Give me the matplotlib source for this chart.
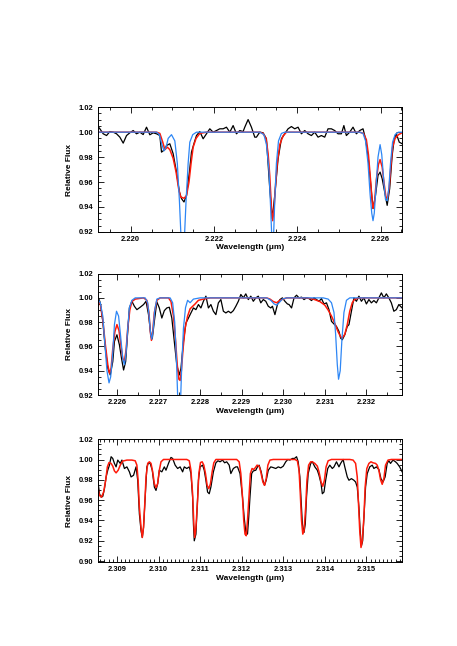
import matplotlib
matplotlib.use("Agg")
import matplotlib.pyplot as plt
from matplotlib.ticker import MultipleLocator, FormatStrFormatter

plt.rcParams['font.family'] = ['Liberation Sans', 'DejaVu Sans']
plt.rcParams['font.weight'] = 'bold'

# ---- panel 1 : 2.2192 - 2.2265 um ----
p1_wave_obs = [2.21921, 2.21926, 2.21934, 2.21942, 2.21950, 2.21958, 2.21966, 2.21974, 2.21982, 2.21990,
               2.21998, 2.22006, 2.22014, 2.22022, 2.22030, 2.22038, 2.22046, 2.22054, 2.22062, 2.22070,
               2.22074, 2.22082, 2.22086, 2.22094, 2.22102, 2.22110, 2.22117, 2.22122, 2.22128, 2.22134,
               2.22141, 2.22146, 2.22153, 2.22158, 2.22166, 2.22174, 2.22182, 2.22190, 2.22198, 2.22206,
               2.22214, 2.22222, 2.22230, 2.22238, 2.22246, 2.22254, 2.22262, 2.22270, 2.22274, 2.22282,
               2.22290, 2.22298, 2.22302, 2.22310, 2.22318, 2.22326, 2.22334, 2.22340, 2.22346, 2.22354,
               2.22362, 2.22370, 2.22378, 2.22386, 2.22394, 2.22402, 2.22410, 2.22418, 2.22426, 2.22434,
               2.22442, 2.22450, 2.22458, 2.22466, 2.22474, 2.22482, 2.22490, 2.22498, 2.22506, 2.22512,
               2.22518, 2.22526, 2.22534, 2.22542, 2.22550, 2.22558, 2.22564, 2.22570, 2.22576, 2.22582,
               2.22588, 2.22594, 2.22599, 2.22604, 2.22610, 2.22616, 2.22622, 2.22628, 2.22633, 2.22638,
               2.22645, 2.22652]
p1_flux_obs = [1.0048, 1.0027, 0.9987, 0.9973, 1.0005, 1.0000, 0.9987, 0.9960, 0.9912, 0.9973,
               0.9995, 1.0013, 0.9987, 1.0000, 0.9981, 1.0040, 0.9979, 0.9995, 0.9987, 0.9973,
               0.9840, 0.9861, 0.9893, 0.9907, 0.9827, 0.9680, 0.9520, 0.9467, 0.9440, 0.9493,
               0.9680, 0.9840, 0.9920, 0.9973, 1.0005, 0.9947, 0.9987, 1.0027, 1.0000, 1.0013,
               1.0027, 1.0027, 1.0040, 1.0000, 1.0053, 0.9987, 1.0013, 1.0005, 1.0040, 1.0101,
               1.0040, 0.9960, 0.9960, 1.0000, 0.9995, 0.9947, 0.9547, 0.9307, 0.9493, 0.9787,
               0.9947, 0.9987, 1.0027, 1.0045, 1.0027, 1.0040, 0.9987, 1.0013, 0.9987, 0.9973,
               1.0000, 0.9960, 0.9973, 0.9960, 1.0027, 1.0027, 1.0013, 0.9987, 0.9987, 1.0053,
               0.9973, 1.0000, 1.0040, 0.9987, 1.0013, 1.0027, 0.9947, 0.9813, 0.9600, 0.9387,
               0.9493, 0.9653, 0.9680, 0.9627, 0.9520, 0.9413, 0.9547, 0.9813, 0.9947, 0.9987,
               0.9920, 0.9907]

p1_wave_red = [2.21921, 2.22062, 2.22070, 2.22077, 2.22082, 2.22088, 2.22094, 2.22102, 2.22109, 2.22115,
               2.22120, 2.22128, 2.22134, 2.22140, 2.22145, 2.22150, 2.22157, 2.22166, 2.22182, 2.22310,
               2.22318, 2.22325, 2.22330, 2.22334, 2.22338, 2.22341, 2.22344, 2.22348, 2.22352, 2.22358,
               2.22366, 2.22374, 2.22550, 2.22559, 2.22566, 2.22571, 2.22576, 2.22580, 2.22582, 2.22586,
               2.22590, 2.22595, 2.22599, 2.22604, 2.22609, 2.22613, 2.22617, 2.22621, 2.22625, 2.22629,
               2.22635, 2.22643, 2.22652]
p1_flux_red = [1.000, 1.000, 0.999, 0.992, 0.986, 0.988, 0.986, 0.979, 0.968, 0.955,
               0.948, 0.947, 0.949, 0.960, 0.975, 0.988, 0.995, 0.999, 1.000, 1.000,
               0.999, 0.995, 0.983, 0.965, 0.940, 0.929, 0.937, 0.958, 0.975, 0.990,
               0.997, 1.000, 1.000, 0.999, 0.994, 0.982, 0.962, 0.944, 0.939, 0.945,
               0.962, 0.974, 0.978, 0.972, 0.958, 0.948, 0.947, 0.956, 0.973, 0.988,
               0.995, 0.998, 0.9995]

p1_wave_blue = [2.21921, 2.22062, 2.22069, 2.22074, 2.22080, 2.22085, 2.22090, 2.22098, 2.22106, 2.22112,
                2.22117, 2.22121, 2.22125, 2.22129, 2.22133, 2.22138, 2.22142, 2.22149, 2.22158, 2.22310,
                2.22320, 2.22326, 2.22332, 2.22336, 2.22339, 2.22341, 2.22343, 2.22346, 2.22350, 2.22355,
                2.22362, 2.22370, 2.22550, 2.22558, 2.22564, 2.22570, 2.22575, 2.22579, 2.22582, 2.22585,
                2.22590, 2.22594, 2.22599, 2.22603, 2.22608, 2.22612, 2.22616, 2.22620, 2.22624, 2.22629,
                2.22635, 2.22643, 2.22652]
p1_flux_blue = [1.000, 1.000, 0.998, 0.991, 0.985, 0.988, 0.995, 0.998, 0.993, 0.975,
                0.945, 0.915, 0.900, 0.915, 0.945, 0.975, 0.992, 0.998, 1.000, 1.000,
                0.998, 0.990, 0.970, 0.940, 0.915, 0.905, 0.915, 0.945, 0.975, 0.993,
                0.999, 1.000, 1.000, 0.999, 0.993, 0.975, 0.950, 0.935, 0.929, 0.935,
                0.960, 0.980, 0.990, 0.982, 0.960, 0.946, 0.945, 0.955, 0.975, 0.992,
                0.998, 1.000, 1.000]

# ---- panel 2 : 2.2255 - 2.2329 um ----
p2_wave_obs = [2.22554, 2.22560, 2.22566, 2.22572, 2.22578, 2.22584, 2.22590, 2.22594, 2.22600, 2.22606,
               2.22611, 2.22616, 2.22621, 2.22626, 2.22630, 2.22636, 2.22642, 2.22648, 2.22656, 2.22664,
               2.22670, 2.22676, 2.22682, 2.22685, 2.22690, 2.22696, 2.22702, 2.22708, 2.22714, 2.22720,
               2.22726, 2.22732, 2.22738, 2.22744, 2.22750, 2.22754, 2.22760, 2.22766, 2.22772, 2.22778,
               2.22784, 2.22790, 2.22796, 2.22802, 2.22808, 2.22814, 2.22820, 2.22826, 2.22832, 2.22838,
               2.22844, 2.22850, 2.22856, 2.22862, 2.22868, 2.22874, 2.22880, 2.22886, 2.22892, 2.22898,
               2.22904, 2.22910, 2.22916, 2.22922, 2.22928, 2.22934, 2.22940, 2.22946, 2.22952, 2.22958,
               2.22964, 2.22970, 2.22974, 2.22980, 2.22986, 2.22992, 2.22998, 2.23004, 2.23010, 2.23014,
               2.23020, 2.23026, 2.23032, 2.23038, 2.23044, 2.23050, 2.23056, 2.23062, 2.23068, 2.23074,
               2.23080, 2.23086, 2.23092, 2.23098, 2.23104, 2.23110, 2.23116, 2.23122, 2.23128, 2.23134,
               2.23138, 2.23142, 2.23148, 2.23154, 2.23158, 2.23164, 2.23170, 2.23176, 2.23182, 2.23188,
               2.23194, 2.23200, 2.23206, 2.23212, 2.23218, 2.23224, 2.23230, 2.23236, 2.23242, 2.23248,
               2.23254, 2.23260, 2.23266, 2.23272, 2.23278, 2.23286]
p2_flux_obs = [1.0014, 0.9959, 0.9807, 0.9586, 0.9420, 0.9365, 0.9475, 0.9641, 0.9696, 0.9613,
               0.9503, 0.9406, 0.9475, 0.9724, 0.9917, 0.9972, 0.9931, 0.9903, 0.9923, 0.9945,
               0.9972, 0.9862, 0.9682, 0.9663, 0.9807, 0.9967, 0.9917, 0.9834, 0.9895, 0.9917,
               0.9923, 0.9834, 0.9641, 0.9448, 0.9365, 0.9420, 0.9641, 0.9793, 0.9834, 0.9876,
               0.9917, 0.9903, 0.9945, 0.9917, 0.9972, 1.0014, 0.9917, 0.9945, 0.9890, 0.9862,
               0.9959, 0.9986, 0.9890, 0.9876, 0.9890, 0.9876, 0.9895, 0.9931, 0.9972, 1.0028,
               1.0000, 1.0033, 0.9986, 1.0014, 0.9972, 1.0000, 1.0014, 0.9959, 0.9986, 0.9972,
               0.9931, 0.9917, 0.9931, 0.9862, 0.9945, 0.9986, 1.0000, 0.9972, 0.9950, 0.9945,
               0.9917, 1.0000, 1.0022, 1.0000, 1.0006, 0.9986, 1.0000, 0.9994, 0.9978, 1.0000,
               0.9986, 0.9972, 0.9994, 0.9950, 0.9959, 0.9903, 0.9807, 0.9785, 0.9765, 0.9724,
               0.9669, 0.9655, 0.9696, 0.9765, 0.9779, 0.9890, 1.0000, 0.9972, 1.0014, 0.9972,
               1.0000, 0.9950, 0.9986, 0.9959, 0.9978, 0.9959, 1.0000, 1.0041, 1.0000, 1.0033,
               1.0000, 0.9959, 0.9890, 0.9903, 0.9945, 0.9917]

p2_wave_red = [2.22554, 2.22560, 2.22566, 2.22572, 2.22578, 2.22582, 2.22586, 2.22590, 2.22595, 2.22600,
               2.22605, 2.22610, 2.22614, 2.22618, 2.22622, 2.22626, 2.22631, 2.22636, 2.22644, 2.22664,
               2.22672, 2.22677, 2.22680, 2.22683, 2.22686, 2.22690, 2.22696, 2.22704, 2.22724, 2.22730,
               2.22736, 2.22741, 2.22745, 2.22749, 2.22752, 2.22755, 2.22759, 2.22764, 2.22770, 2.22776,
               2.22782, 2.22788, 2.22796, 2.22808, 2.22824, 2.22960, 2.22968, 2.22976, 2.22984, 2.22992,
               2.23000, 2.23008, 2.23056, 2.23072, 2.23088, 2.23100, 2.23108, 2.23116, 2.23124, 2.23132,
               2.23138, 2.23142, 2.23148, 2.23154, 2.23160, 2.23166, 2.23172, 2.23184, 2.23286]
p2_flux_red = [0.998, 0.995, 0.982, 0.962, 0.945, 0.938, 0.942, 0.958, 0.972, 0.978,
               0.973, 0.960, 0.950, 0.948, 0.957, 0.975, 0.990, 0.997, 0.999, 1.000,
               0.998, 0.988, 0.973, 0.965, 0.972, 0.988, 0.998, 1.000, 1.000, 0.997,
               0.985, 0.965, 0.945, 0.933, 0.932, 0.940, 0.958, 0.975, 0.985, 0.991,
               0.993, 0.995, 0.998, 0.999, 1.000, 1.000, 0.999, 0.997, 0.996, 0.998,
               0.999, 1.000, 1.000, 0.999, 0.997, 0.994, 0.990, 0.985, 0.979, 0.972,
               0.968, 0.967, 0.970, 0.978, 0.989, 0.996, 0.999, 1.000, 1.000]

p2_wave_blue = [2.22554, 2.22560, 2.22566, 2.22571, 2.22576, 2.22581, 2.22585, 2.22590, 2.22594, 2.22599,
                2.22604, 2.22609, 2.22614, 2.22618, 2.22622, 2.22626, 2.22630, 2.22636, 2.22644, 2.22668,
                2.22674, 2.22678, 2.22681, 2.22684, 2.22687, 2.22691, 2.22696, 2.22704, 2.22728, 2.22734,
                2.22739, 2.22743, 2.22746, 2.22750, 2.22753, 2.22756, 2.22760, 2.22765, 2.22770, 2.22776,
                2.22784, 2.22800, 2.22960, 2.22970, 2.22978, 2.22984, 2.22990, 2.22998, 2.23008, 2.23096,
                2.23108, 2.23116, 2.23122, 2.23126, 2.23130, 2.23133, 2.23137, 2.23141, 2.23146, 2.23152,
                2.23160, 2.23286]
p2_flux_blue = [0.999, 0.996, 0.985, 0.962, 0.940, 0.930, 0.935, 0.955, 0.978, 0.989,
                0.985, 0.968, 0.950, 0.945, 0.955, 0.975, 0.992, 0.998, 1.000, 1.000,
                0.996, 0.983, 0.970, 0.966, 0.974, 0.990, 0.999, 1.000, 1.000, 0.996,
                0.980, 0.950, 0.920, 0.900, 0.915, 0.945, 0.975, 0.992, 0.998, 0.996,
                0.999, 1.000, 1.000, 0.998, 0.995, 0.994, 0.996, 0.999, 1.000, 1.000,
                0.999, 0.996, 0.988, 0.970, 0.945, 0.933, 0.940, 0.965, 0.988, 0.998,
                1.000, 1.000]

# ---- panel 3 : 2.3085 - 2.3159 um ----
p3_wave_obs = [2.30854, 2.30858, 2.30862, 2.30866, 2.30870, 2.30874, 2.30878, 2.30882, 2.30886, 2.30890,
               2.30894, 2.30898, 2.30902, 2.30908, 2.30912, 2.30918, 2.30924, 2.30930, 2.30934, 2.30940,
               2.30946, 2.30950, 2.30954, 2.30958, 2.30961, 2.30964, 2.30968, 2.30972, 2.30976, 2.30980,
               2.30985, 2.30990, 2.30994, 2.30998, 2.31002, 2.31008, 2.31014, 2.31018, 2.31024, 2.31030,
               2.31034, 2.31040, 2.31046, 2.31052, 2.31058, 2.31062, 2.31068, 2.31074, 2.31078, 2.31082,
               2.31084, 2.31086, 2.31090, 2.31093, 2.31096, 2.31100, 2.31106, 2.31110, 2.31114, 2.31118,
               2.31122, 2.31126, 2.31132, 2.31138, 2.31143, 2.31148, 2.31154, 2.31159, 2.31164, 2.31170,
               2.31174, 2.31180, 2.31186, 2.31190, 2.31196, 2.31202, 2.31206, 2.31210, 2.31214, 2.31217,
               2.31220, 2.31224, 2.31228, 2.31234, 2.31238, 2.31242, 2.31247, 2.31251, 2.31255, 2.31259,
               2.31264, 2.31270, 2.31276, 2.31282, 2.31288, 2.31294, 2.31300, 2.31306, 2.31311, 2.31316,
               2.31322, 2.31327, 2.31332, 2.31336, 2.31340, 2.31343, 2.31346, 2.31350, 2.31353, 2.31356,
               2.31360, 2.31366, 2.31370, 2.31376, 2.31382, 2.31386, 2.31391, 2.31394, 2.31398, 2.31402,
               2.31407, 2.31412, 2.31418, 2.31422, 2.31428, 2.31434, 2.31438, 2.31444, 2.31448, 2.31454,
               2.31458, 2.31464, 2.31470, 2.31474, 2.31478, 2.31482, 2.31485, 2.31488, 2.31491, 2.31494,
               2.31498, 2.31502, 2.31508, 2.31514, 2.31518, 2.31524, 2.31530, 2.31535, 2.31540, 2.31545,
               2.31550, 2.31554, 2.31558, 2.31564, 2.31570, 2.31574, 2.31580, 2.31586]
p3_flux_obs = [0.9796, 0.9663, 0.9630, 0.9637, 0.9713, 0.9829, 0.9895, 0.9945, 1.0028, 1.0011,
               0.9962, 0.9928, 0.9995, 0.9962, 0.9995, 0.9912, 0.9928, 0.9879, 0.9829, 0.9845,
               0.9928, 0.9796, 0.9464, 0.9298, 0.9232, 0.9332, 0.9630, 0.9928, 0.9968, 0.9962,
               0.9895, 0.9729, 0.9696, 0.9763, 0.9895, 0.9879, 0.9928, 0.9895, 0.9962, 1.0021,
               1.0011, 0.9945, 0.9912, 0.9928, 0.9879, 0.9928, 0.9912, 0.9928, 0.9862, 0.9630,
               0.9365, 0.9199, 0.9265, 0.9531, 0.9796, 0.9928, 0.9945, 0.9895, 0.9796, 0.9680,
               0.9663, 0.9729, 0.9879, 0.9968, 0.9988, 0.9978, 0.9995, 0.9968, 0.9978, 0.9945,
               0.9862, 0.9912, 0.9928, 0.9928, 0.9862, 0.9630, 0.9431, 0.9282, 0.9265, 0.9431,
               0.9630, 0.9862, 0.9888, 0.9895, 0.9928, 0.9945, 0.9879, 0.9796, 0.9746, 0.9796,
               0.9895, 0.9928, 0.9921, 0.9912, 0.9928, 0.9918, 0.9935, 0.9978, 1.0001, 0.9995,
               1.0011, 1.0011, 1.0028, 0.9978, 0.9829, 0.9597, 0.9365, 0.9282, 0.9365, 0.9630,
               0.9862, 0.9962, 0.9978, 0.9928, 0.9895, 0.9845, 0.9763, 0.9663, 0.9680, 0.9796,
               0.9912, 0.9945, 0.9912, 0.9928, 0.9978, 0.9928, 0.9962, 1.0001, 0.9928, 0.9829,
               0.9796, 0.9812, 0.9796, 0.9779, 0.9729, 0.9531, 0.9298, 0.9149, 0.9199, 0.9431,
               0.9729, 0.9862, 0.9928, 0.9945, 0.9912, 0.9928, 0.9902, 0.9812, 0.9779, 0.9829,
               0.9962, 0.9988, 0.9962, 0.9995, 0.9978, 0.9962, 0.9928, 0.9879]

p3_wave_red = [2.30854, 2.30858, 2.30863, 2.30868, 2.30873, 2.30877, 2.30881, 2.30886, 2.30890, 2.30894,
               2.30898, 2.30903, 2.30908, 2.30914, 2.30924, 2.30936, 2.30944, 2.30948, 2.30951, 2.30954,
               2.30958, 2.30961, 2.30964, 2.30967, 2.30970, 2.30974, 2.30978, 2.30982, 2.30986, 2.30990,
               2.30994, 2.30998, 2.31002, 2.31006, 2.31012, 2.31068, 2.31074, 2.31078, 2.31082, 2.31085,
               2.31087, 2.31090, 2.31094, 2.31097, 2.31101, 2.31105, 2.31109, 2.31113, 2.31117, 2.31121,
               2.31125, 2.31129, 2.31133, 2.31138, 2.31188, 2.31194, 2.31198, 2.31202, 2.31205, 2.31208,
               2.31211, 2.31214, 2.31218, 2.31221, 2.31225, 2.31229, 2.31233, 2.31237, 2.31242, 2.31246,
               2.31251, 2.31255, 2.31259, 2.31263, 2.31268, 2.31276, 2.31328, 2.31334, 2.31338, 2.31341,
               2.31344, 2.31347, 2.31350, 2.31354, 2.31357, 2.31361, 2.31366, 2.31370, 2.31376, 2.31382,
               2.31386, 2.31391, 2.31395, 2.31399, 2.31403, 2.31408, 2.31416, 2.31460, 2.31468, 2.31474,
               2.31478, 2.31481, 2.31484, 2.31487, 2.31490, 2.31494, 2.31497, 2.31501, 2.31506, 2.31511,
               2.31516, 2.31522, 2.31526, 2.31530, 2.31534, 2.31538, 2.31542, 2.31546, 2.31552, 2.31560,
               2.31586]
p3_flux_red = [0.9729, 0.9646, 0.9630, 0.9680, 0.9796, 0.9928, 0.9971, 0.9962, 0.9935, 0.9888,
               0.9869, 0.9895, 0.9945, 0.9985, 0.9995, 0.9995, 0.9988, 0.9945, 0.9796, 0.9531,
               0.9332, 0.9232, 0.9332, 0.9564, 0.9829, 0.9962, 0.9978, 0.9962, 0.9879, 0.9763,
               0.9723, 0.9763, 0.9895, 0.9978, 1.0001, 1.0001, 0.9988, 0.9895, 0.9663, 0.9365,
               0.9232, 0.9332, 0.9597, 0.9862, 0.9971, 0.9978, 0.9945, 0.9862, 0.9746, 0.9713,
               0.9763, 0.9879, 0.9968, 1.0001, 1.0001, 0.9978, 0.9862, 0.9630, 0.9398, 0.9265,
               0.9249, 0.9398, 0.9663, 0.9862, 0.9912, 0.9902, 0.9921, 0.9945, 0.9935, 0.9879,
               0.9779, 0.9746, 0.9812, 0.9945, 0.9995, 1.0001, 1.0001, 0.9988, 0.9895, 0.9663,
               0.9398, 0.9265, 0.9298, 0.9531, 0.9796, 0.9945, 0.9978, 0.9978, 0.9962, 0.9935,
               0.9879, 0.9779, 0.9736, 0.9796, 0.9928, 0.9988, 1.0001, 1.0001, 0.9995, 0.9962,
               0.9829, 0.9564, 0.9298, 0.9133, 0.9199, 0.9431, 0.9729, 0.9912, 0.9962, 0.9978,
               0.9968, 0.9962, 0.9945, 0.9895, 0.9802, 0.9756, 0.9812, 0.9945, 0.9995, 1.0001,
               1.0001]

panels = [
    dict(obs=(p1_wave_obs, p1_flux_obs), red=(p1_wave_red, p1_flux_red), blue=(p1_wave_blue, p1_flux_blue),
         xlim=(2.21921, 2.22652), ylim=(0.92, 1.02), xmajor=0.002, xminor=0.0005, yticks=[0.92, 0.94, 0.96, 0.98, 1.00, 1.02],
         rect=[0.214, 0.641, 0.666, 0.193]),
    dict(obs=(p2_wave_obs, p2_flux_obs), red=(p2_wave_red, p2_flux_red), blue=(p2_wave_blue, p2_flux_blue),
         xlim=(2.22554, 2.23286), ylim=(0.92, 1.02), xmajor=0.001, xminor=0.0005, yticks=[0.92, 0.94, 0.96, 0.98, 1.00, 1.02],
         rect=[0.214, 0.3885, 0.666, 0.188]),
    dict(obs=(p3_wave_obs, p3_flux_obs), red=(p3_wave_red, p3_flux_red), blue=None,
         xlim=(2.30854, 2.31586), ylim=(0.899, 1.02), xmajor=0.001, xminor=0.0001, yticks=[0.90, 0.92, 0.94, 0.96, 0.98, 1.00, 1.02],
         rect=[0.214, 0.130, 0.666, 0.190]),
]

fig = plt.figure(figsize=(4.57, 6.46), dpi=100)

for p in panels:
    ax = fig.add_axes(p['rect'])
    ax.plot(*p['obs'], color='black', lw=0.9)
    ax.plot(*p['red'], color='#ff1a0a', lw=1.1)
    if p['blue'] is not None:
        ax.plot(*p['blue'], color='#2d86f5', lw=0.9)
    ax.set_xlim(*p['xlim'])
    ax.set_ylim(*p['ylim'])
    ax.set_yticks(p['yticks'])
    ax.yaxis.set_minor_locator(MultipleLocator(0.005))
    ax.xaxis.set_major_locator(MultipleLocator(p['xmajor']))
    ax.xaxis.set_minor_locator(MultipleLocator(p['xminor']))
    ax.xaxis.set_major_formatter(FormatStrFormatter('%.3f'))
    ax.yaxis.set_major_formatter(FormatStrFormatter('%.2f'))
    ax.tick_params(which='both', direction='in', top=True, right=True, width=0.6)
    ax.tick_params(which='major', length=4, labelsize=5.4, pad=3)
    ax.tick_params(which='minor', length=2)
    for s in ax.spines.values():
        s.set_linewidth(0.7)
    ax.set_xlabel('Wavelength (μm)', fontsize=6, fontweight='bold', labelpad=1)
    ax.set_ylabel('Relative Flux', fontsize=6, fontweight='bold', labelpad=4)

fig.savefig('out.png', dpi=100)
